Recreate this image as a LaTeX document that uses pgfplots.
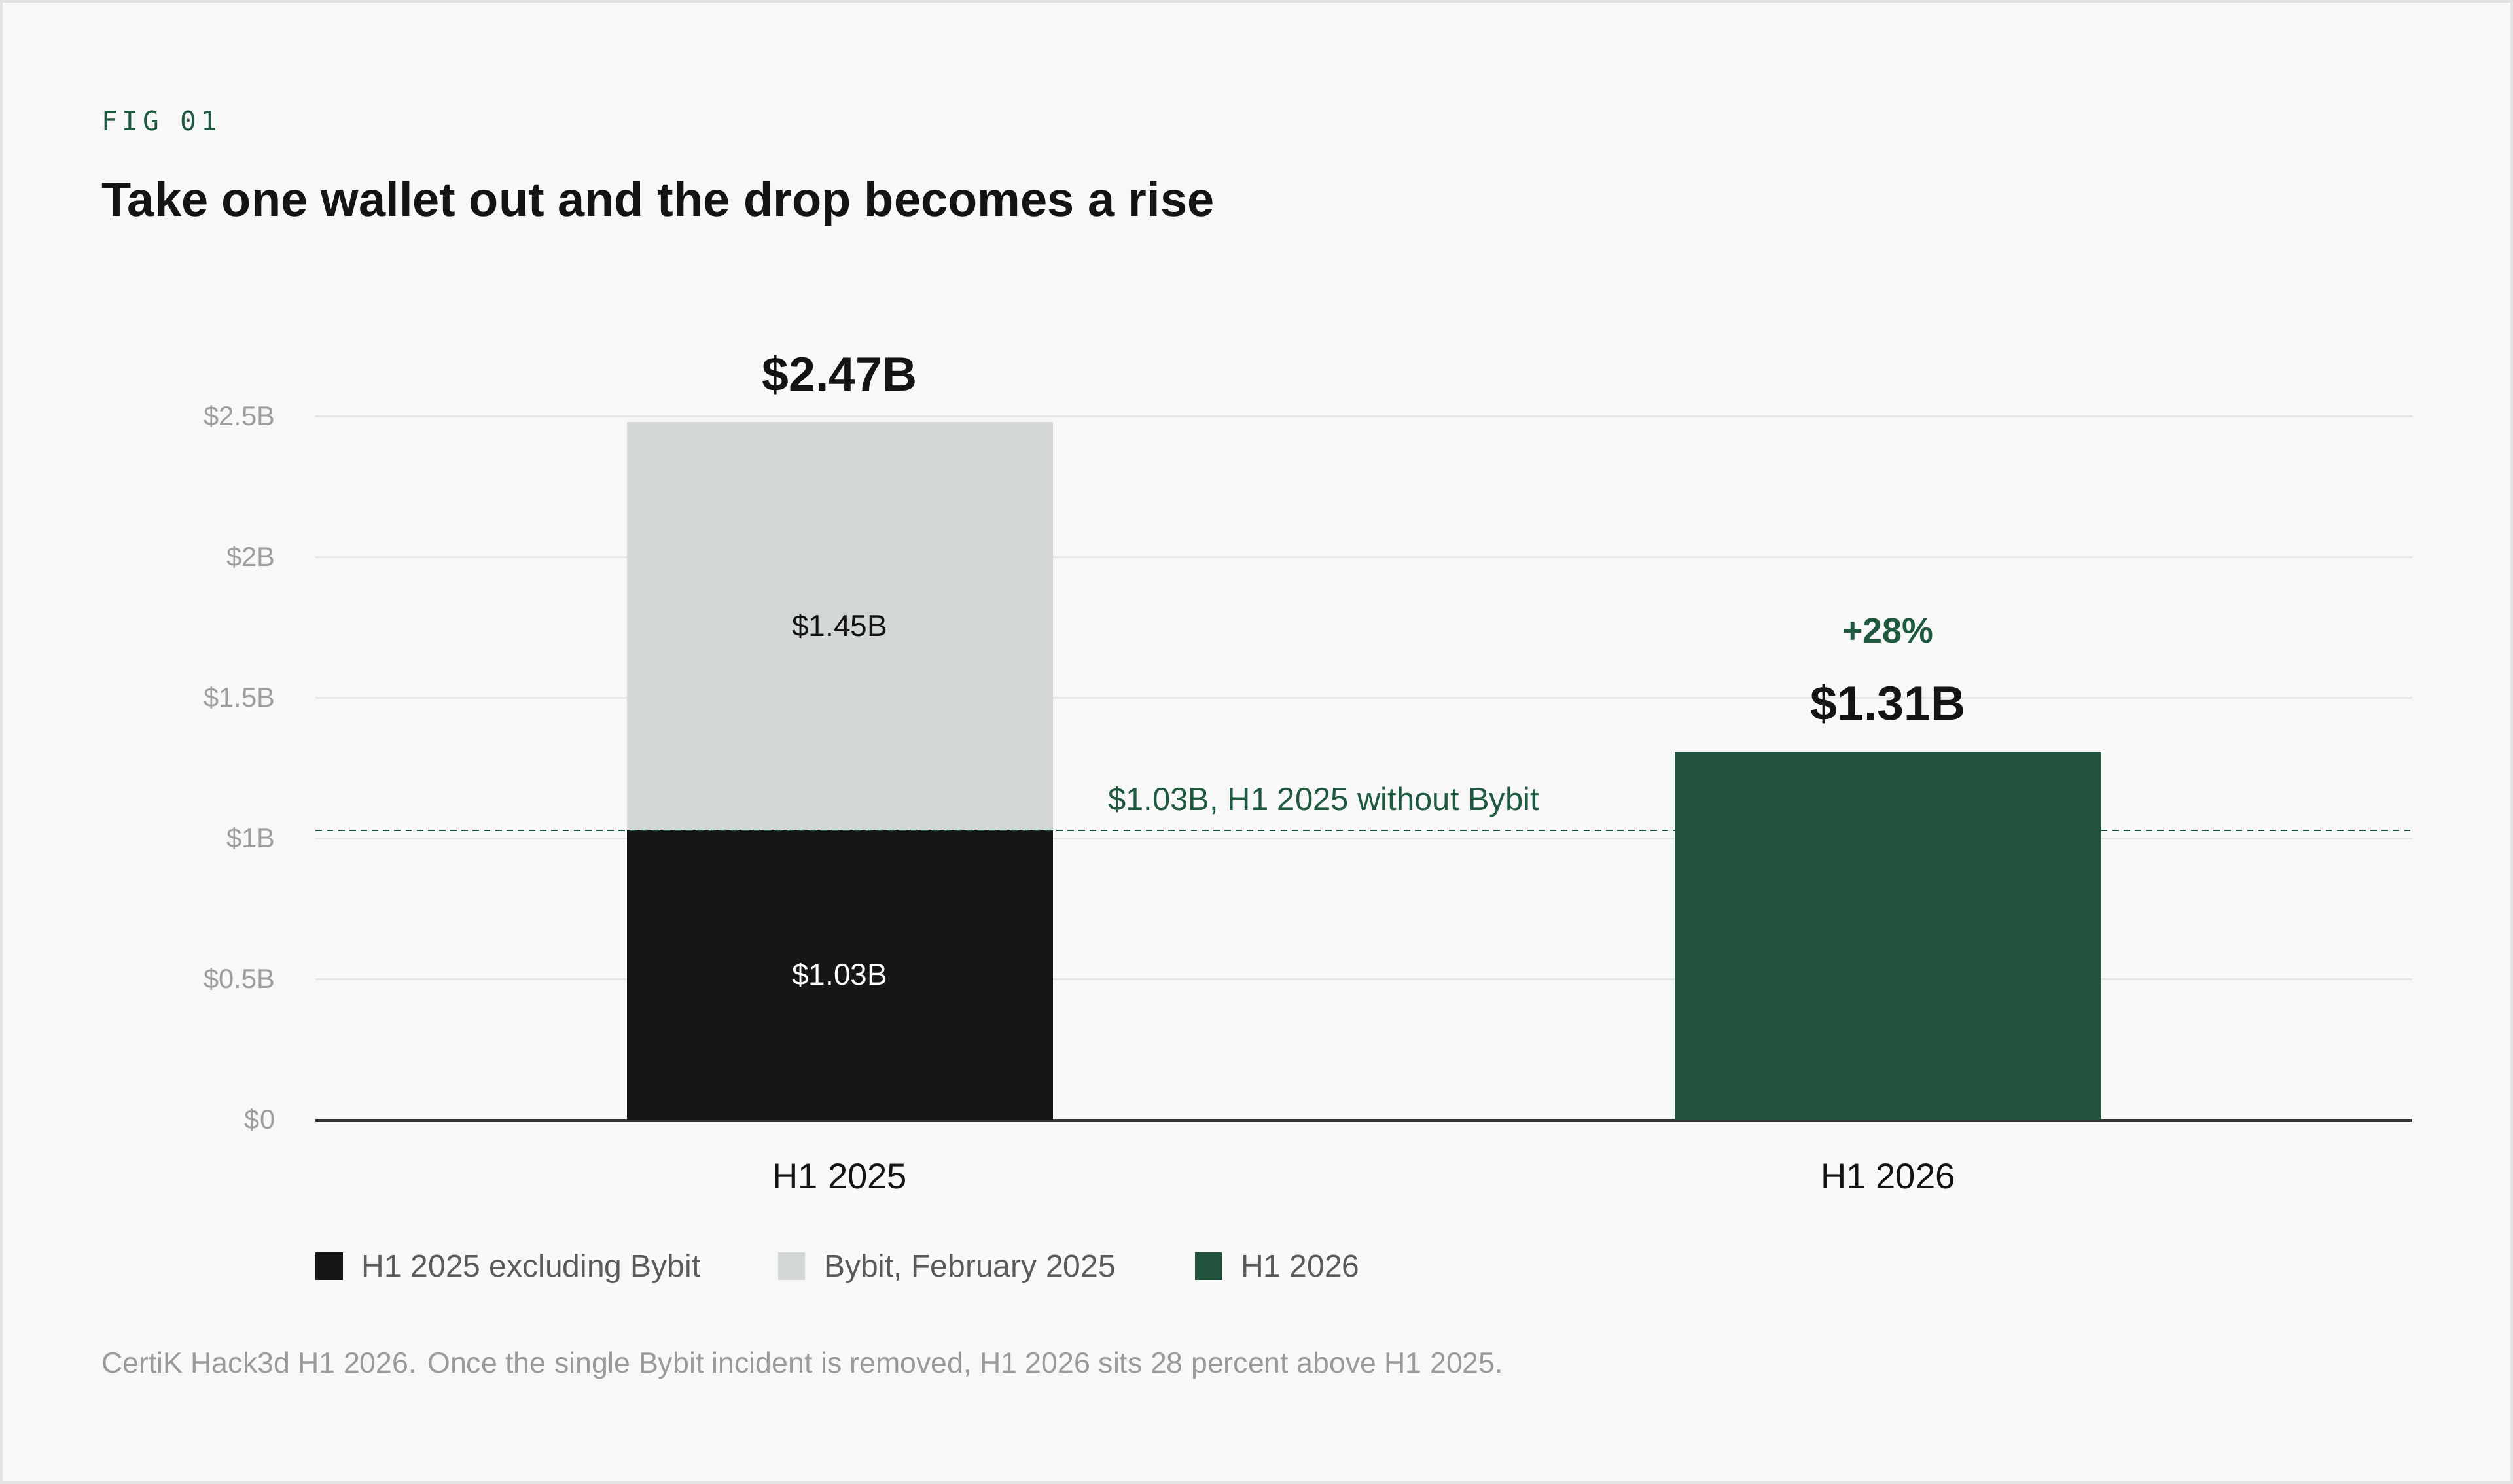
\documentclass[border=0pt]{standalone}
\usepackage{fontspec}
\setmainfont{Liberation Sans}
\newfontfamily\figmono[LetterSpace=17]{DejaVu Sans Mono}
\usepackage{pgfplots}
\usepackage{pgfplotstable}
\pgfplotsset{compat=1.18}
\definecolor{bg}{HTML}{F8F8F8}
\definecolor{framec}{HTML}{E3E3E3}
\definecolor{ink}{HTML}{141414}
\definecolor{barblack}{HTML}{161616}
\definecolor{bargray}{HTML}{D2D7D3}
\definecolor{bargreen}{HTML}{22543D}
\definecolor{txtgreen}{HTML}{1F5A3F}
\definecolor{tickgray}{HTML}{9E9E9E}
\definecolor{gridc}{HTML}{E6E6E6}
\definecolor{axisc}{HTML}{333333}
\definecolor{legtxt}{HTML}{5A5A5A}
\definecolor{foot}{HTML}{9A9A9A}
\definecolor{dashc}{HTML}{22543D}
\newcommand\fs[1]{\fontsize{#1}{#1}\selectfont}
\pgfplotstableread{
x excl bybit h26
0 1.03 1.45 0
1 0 0 1.31
}\datatable
\begin{document}
\begin{tikzpicture}
\fill[bg] (0pt,0pt) rectangle (784pt,-463pt);
\draw[framec, line width=0.8pt] (0.4pt,-0.4pt) rectangle (783.6pt,-462.6pt);
\node[anchor=base west, inner sep=0pt, text=txtgreen, font=\figmono\fs{8.4pt}] at (31.5pt,-40.8pt) {FIG 01};
\node[anchor=base west, inner sep=0pt, text=ink, font=\bfseries\fs{15.1pt}] at (31.5pt,-67.4pt) {Take one wallet out and the drop becomes a rise};
\node[anchor=base west, inner sep=0pt, text=foot, font=\fs{9.12pt}] at (31.5pt,-428.35pt) {CertiK Hack3d H1 2026. Once the single Bybit incident is removed, H1 2026 sits 28 percent above H1 2025.};
\begin{axis}[
  at={(98.5pt,-349.5pt)}, anchor=south west,
  scale only axis, width=654pt, height=219.5pt,
  xmin=-0.5, xmax=1.5, ymin=0, ymax=2.5,
  ybar stacked, bar width=133pt,
  clip=false,
  axis lines*=left, axis line style={-},
  y axis line style={draw=none},
  x axis line style={draw=axisc, line width=0.8pt},
  major tick length=0pt, tick style={draw=none},
  ymajorgrids, grid style={gridc, line width=0.6pt},
  ytick={0,0.5,1,1.5,2,2.5},
  yticklabels={\$0,\$0.5B,\$1B,\$1.5B,\$2B,\$2.5B},
  yticklabel style={anchor=east, inner sep=0pt, xshift=-12.5pt, text=tickgray, font=\fs{8.5pt}},
  xtick={0,1}, xticklabels={H1 2025,H1 2026},
  xticklabel style={anchor=base, inner sep=0pt, yshift=-21.4pt, text=ink, font=\fs{11.1pt}},
  legend columns=3,
  legend image code/.code={\fill[#1] (0pt,-0.75pt) rectangle (8.5pt,7.75pt);},
  legend style={at={(0,-0.188)}, anchor=north west, draw=none, fill=none, inner sep=0pt, outer sep=0pt,
    font=\fs{9.8pt}, text=legtxt,
    nodes={inner sep=0pt, text depth=0pt},
    cells={anchor=base west},
    /tikz/every odd column/.append style={column sep=5.9pt},
    /tikz/every even column/.append style={column sep=0pt}},
]
\addplot[sharp plot, stack plots=false, dashc, line width=0.55pt, dash pattern=on 2pt off 1.5pt, forget plot] coordinates {(-0.5,1.03) (0.7966,1.03)};
\addplot[sharp plot, stack plots=false, dashc, line width=0.55pt, dash pattern=on 2pt off 1.5pt, forget plot] coordinates {(1.2034,1.03) (1.5,1.03)};
\addplot[fill=barblack, draw=none] table[x=x, y=excl] {\datatable};
\addlegendentry{\makebox[129.8pt][l]{H1 2025 excluding Bybit}}
\addplot[fill=bargray, draw=none] table[x=x, y=bybit] {\datatable};
\addlegendentry{\makebox[115.65pt][l]{Bybit, February 2025}}
\addplot[fill=bargreen, draw=none] table[x=x, y=h26] {\datatable};
\addlegendentry{H1 2026}
\coordinate (top1) at (axis cs:0,2.48);
\coordinate (mid1) at (axis cs:0,1.755);
\coordinate (low1) at (axis cs:0,0.515);
\coordinate (top2) at (axis cs:1,1.31);
\coordinate (ann) at (axis cs:0.2554,1.03);
\end{axis}
\node[anchor=base, inner sep=0pt, text=ink, font=\bfseries\fs{15pt}] at ([yshift=9.75pt]top1) {\$2.47B};
\node[anchor=center, inner sep=0pt, text=ink, font=\fs{9.4pt}] at (mid1) {\$1.45B};
\node[anchor=center, inner sep=0pt, text=white, font=\fs{9.4pt}] at (low1) {\$1.03B};
\node[anchor=base, inner sep=0pt, text=ink, font=\bfseries\fs{15pt}] at ([yshift=9.9pt]top2) {\$1.31B};
\node[anchor=base, inner sep=0pt, text=txtgreen, font=\bfseries\fs{11pt}] at ([yshift=33.8pt]top2) {+28\%};
\node[anchor=base west, inner sep=0pt, text=txtgreen, font=\fs{10pt}] at ([yshift=6.2pt]ann) {\$1.03B, H1 2025 without Bybit};
\end{tikzpicture}
\end{document}
